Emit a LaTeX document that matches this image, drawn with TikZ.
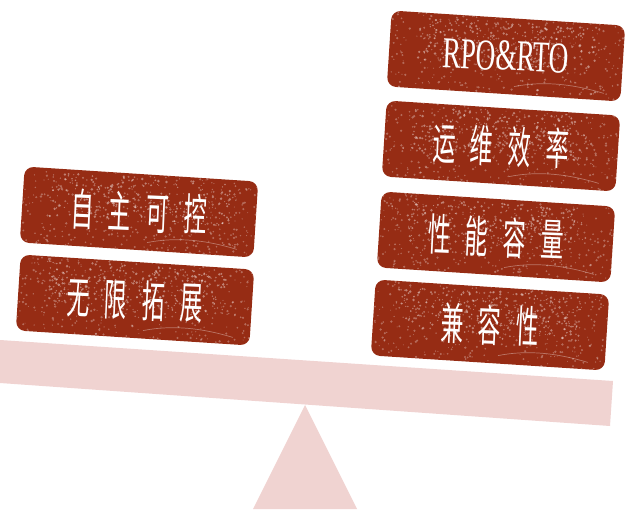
\documentclass[tikz,border=0pt]{standalone}
\usepackage{fontspec}
\newfontfamily\cjk[FakeStretch=0.52]{Noto Sans CJK SC}
\newfontfamily\latn[FakeStretch=0.62]{Liberation Serif}
\definecolor{rust}{HTML}{962C14}
\definecolor{beampink}{HTML}{F0D3D1}
\newcommand\gp{\hspace{15pt}}
\newcommand\blockat[4]{%
  \node[blockbox] (#1) at (#2,#3) {};
  \begin{scope}[shift={(#1.center)}, rotate=-3.7]
    \clip[rounded corners=9pt] (-117,-38) rectangle (117,38);
    \foreach \i in {1,...,380}
      \fill[white, opacity=0.3] ({rand*117},{rand*38}) circle ({0.5+0.8*rnd});
    \foreach \i in {1,...,260}
      \fill[white, opacity=0.4] ({rand*90},{-12+rand*22}) circle ({0.5+0.9*rnd});
    \draw[white, opacity=0.35, line width=0.7pt] (10,30) .. controls (40,22) and (70,24) .. (100,31);
  \end{scope}
  \node[blocktext] (#1-t) at (#1.center) {#4};
}
\begin{document}
\begin{tikzpicture}[x=1pt,y=-1pt,
  blockbox/.style={fill=rust, minimum width=234pt, minimum height=76pt,
    rounded corners=9pt, inner sep=0pt, rotate=-3.7},
  blocktext/.style={text=white, rotate=-2.5, inner sep=0pt,
    font=\cjk\fontsize{44pt}{44pt}\selectfont}]
\useasboundingbox (0,0) rectangle (626,509);
\pgfmathsetseed{7}
% beam and fulcrum
\fill[beampink] (0,340) -- (613,381) -- (610,426) -- (0,383) -- cycle;
\fill[beampink] (305,405) -- (357,509) -- (253,509) -- cycle;
% left blocks
\blockat{l1}{139}{212}{自\gp 主\gp 可\gp 控}
\blockat{l2}{135}{300}{无\gp 限\gp 拓\gp 展}
% right blocks
\blockat{r1}{506}{56}{{\latn\fontsize{44pt}{44pt}\selectfont RPO\&RTO}}
\blockat{r2}{501}{146}{运\gp 维\gp 效\gp 率}
\blockat{r3}{496}{237}{性\gp 能\gp 容\gp 量}
\blockat{r4}{490}{325}{兼\gp 容\gp 性}
\end{tikzpicture}
\end{document}
